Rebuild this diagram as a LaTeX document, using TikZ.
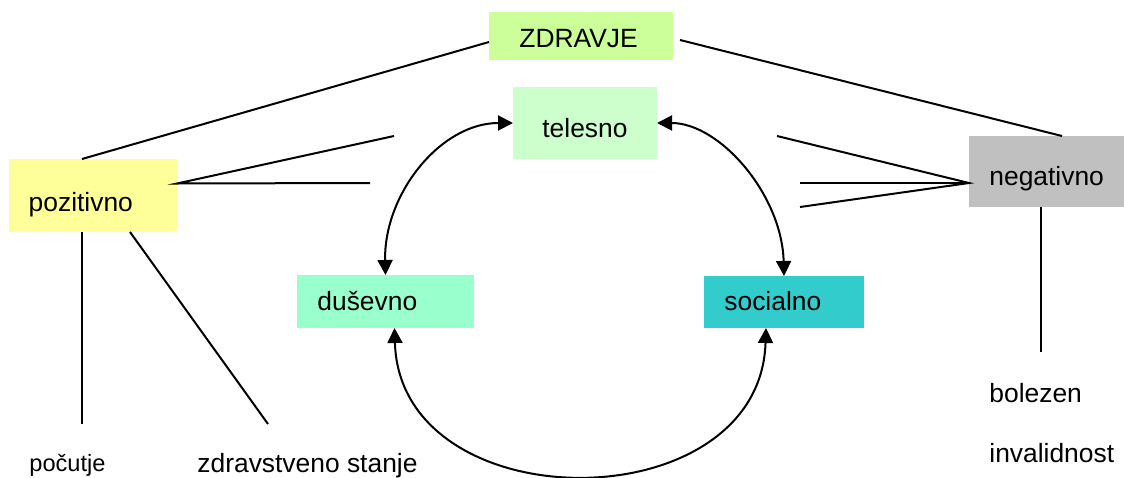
\documentclass[tikz,border=0pt]{standalone}
\usepackage{fontspec}
\setmainfont{Liberation Sans}
\usetikzlibrary{arrows.meta}
\definecolor{cZdr}{HTML}{CCFF99}
\definecolor{cTel}{HTML}{CCFFCC}
\definecolor{cPoz}{HTML}{FFFF99}
\definecolor{cNeg}{HTML}{C0C0C0}
\definecolor{cDus}{HTML}{99FFCC}
\definecolor{cSoc}{HTML}{33CCCC}
\begin{document}
\begin{tikzpicture}[x=0.5pt,y=-0.5pt,
  box/.style={draw=none,inner sep=0pt,outer sep=0pt,anchor=north west},
  lbl/.style={anchor=base west,inner sep=0pt,font=\fontsize{13.2}{15}\selectfont},
  smalllbl/.style={anchor=base west,inner sep=0pt,font=\fontsize{11.8}{14}\selectfont},
  ln/.style={line width=1pt},
  arr/.style={line width=1pt,{Triangle[length=7.5pt,width=7.5pt]}-{Triangle[length=7.5pt,width=7.5pt]}}]
\useasboundingbox (0,0) rectangle (1124,477);
% boxes
\node[box,fill=cZdr,minimum width=92pt,minimum height=24pt] (zdr) at (489,12) {};
\node[box,fill=cTel,minimum width=72pt,minimum height=36pt] (tel) at (513,87) {};
\node[box,fill=cPoz,minimum width=84pt,minimum height=36.5pt] (poz) at (9,159) {};
\node[box,fill=cNeg,minimum width=77.5pt,minimum height=35.5pt] (neg) at (969,136) {};
\node[box,fill=cDus,minimum width=88.5pt,minimum height=26.5pt] (dus) at (297,275) {};
\node[box,fill=cSoc,minimum width=80pt,minimum height=26pt] (soc) at (704,276) {};
% labels
\node[lbl] (tzdr) at (519,47) {ZDRAVJE};
\node[lbl] (ttel) at (542,137) {telesno};
\node[lbl] (tpoz) at (28.3,211) {pozitivno};
\node[lbl] (tneg) at (989,185) {negativno};
\node[lbl] (tdus) at (317,310) {duševno};
\node[lbl] (tsoc) at (724,310) {socialno};
\node[lbl] (bol) at (989,402) {bolezen};
\node[lbl] (inv) at (989,462) {invalidnost};
\node[smalllbl] (poc) at (29,471) {počutje};
\node[lbl] (zst) at (197,472) {zdravstveno stanje};
% free ends
\coordinate (p1) at (394,136);
\coordinate (p2) at (370,183);
\coordinate (n1) at (777,136);
\coordinate (n2) at (800,183);
\coordinate (n3) at (800,207);
\coordinate (pd1) at (82,424);
\coordinate (pd2) at (268,424);
\coordinate (nd1) at (1041,352);
% lines
\draw[ln] ([yshift=-3pt]zdr.west) -- ([xshift=36.5pt]poz.north west);
\draw[ln] ([xshift=3.5pt,yshift=-2pt]zdr.east) -- ([xshift=46.5pt]neg.north west);
\draw[ln] (p1) -- ([yshift=6pt]poz.east) -- (p2);
\draw[ln] (n1) -- ([yshift=-5.75pt]neg.west) -- (n3);
\draw[ln] (n2) -- ([yshift=-5.75pt]neg.west);
\draw[ln] ([xshift=36.5pt]poz.south west) -- (pd1);
\draw[ln] ([xshift=60.5pt]poz.south west) -- (pd2);
\draw[ln] ([xshift=36pt]neg.south west) -- (nd1);
% arrows
\draw[arr] (tel.west) .. controls +(-73,0) and +(-2,-80) .. (dus.north);
\draw[arr] (tel.east) .. controls +(63,0) and +(-2,-81) .. (soc.north);
\draw[arr] ([xshift=4.5pt]dus.south) .. controls +(5.5,195) and +(-6,195) .. ([xshift=-9pt]soc.south);
\end{tikzpicture}
\end{document}
